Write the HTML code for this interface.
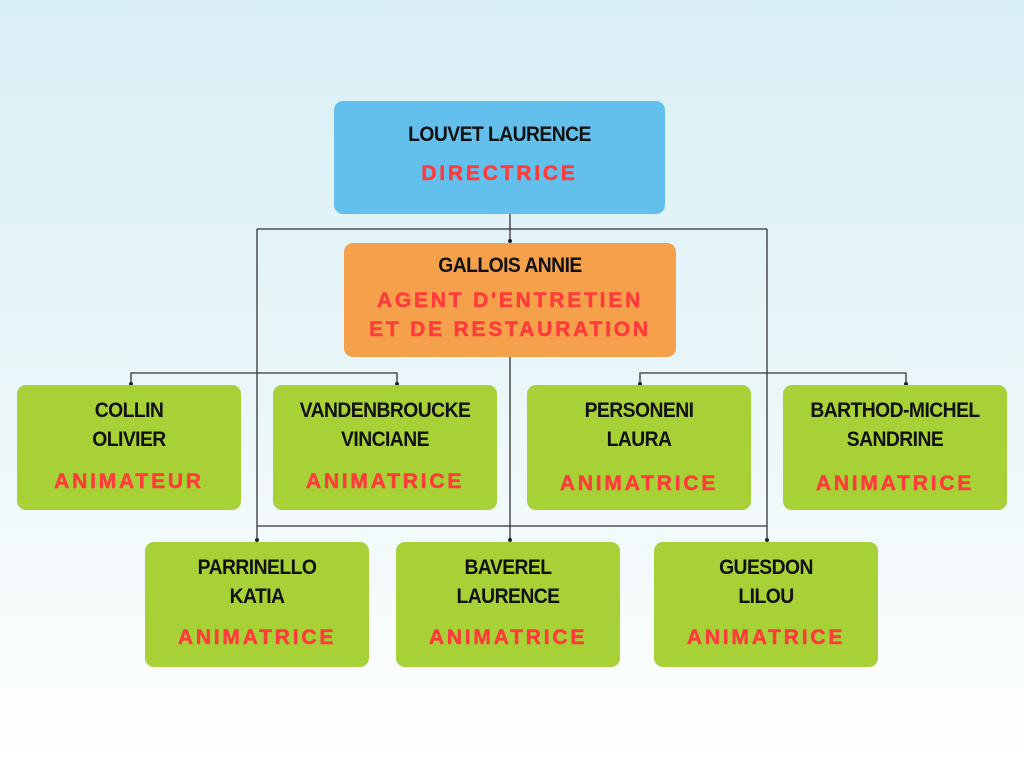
<!DOCTYPE html>
<html><head><style>
body{margin:0;width:1024px;height:768px;overflow:hidden;background:linear-gradient(#d8eff5 0%,#eaf6f9 50%,#ffffff 100%);font-family:"Liberation Sans",sans-serif;position:relative}
.b{position:absolute;border-radius:9px;text-align:center;box-sizing:border-box}
.n{font-weight:bold;font-size:21px;color:#111;line-height:29px;letter-spacing:-0.6px;transform:scaleX(0.92)}
.r{font-weight:bold;font-size:21px;color:#ff3b3b;letter-spacing:2.8px;line-height:32px;-webkit-text-stroke:0.5px #ff3b3b}
.g{background:#a8d037;width:224px;height:125px;padding-top:11px}
svg{position:absolute;left:0;top:0}
</style></head><body>
<svg width="1024" height="768">
<g stroke="#333" stroke-width="1.3" fill="none">
<path d="M510 214V241M257 229H767M257 229V541M767 229V541M257 526H767M510 357V541M131 385V373H397V385M640 385V373H906V385"/>
</g>
<g fill="#222"><circle cx="510" cy="241" r="2"/><circle cx="131" cy="384" r="2"/><circle cx="397" cy="384" r="2"/><circle cx="640" cy="384" r="2"/><circle cx="906" cy="384" r="2"/><circle cx="257" cy="540" r="2"/><circle cx="510" cy="540" r="2"/><circle cx="767" cy="540" r="2"/></g>
</svg>
<div class="b" style="left:334px;top:101px;width:331px;height:113px;background:#63c0ec;padding-top:19px"><div class="n">LOUVET LAURENCE</div><div class="r" style="margin-top:9px">DIRECTRICE</div></div>
<div class="b" style="left:344px;top:243px;width:332px;height:114px;background:#f5a04a;padding-top:8px"><div class="n">GALLOIS ANNIE</div><div class="r" style="margin-top:6px;line-height:29px">AGENT D'ENTRETIEN<br>ET DE RESTAURATION</div></div>
<div class="b g" style="left:17px;top:385px"><div class="n">COLLIN<br>OLIVIER</div><div class="r" style="margin-top:12px">ANIMATEUR</div></div>
<div class="b g" style="left:273px;top:385px"><div class="n">VANDENBROUCKE<br>VINCIANE</div><div class="r" style="margin-top:12px">ANIMATRICE</div></div>
<div class="b g" style="left:527px;top:385px"><div class="n">PERSONENI<br>LAURA</div><div class="r" style="margin-top:14px">ANIMATRICE</div></div>
<div class="b g" style="left:783px;top:385px"><div class="n">BARTHOD-MICHEL<br>SANDRINE</div><div class="r" style="margin-top:14px">ANIMATRICE</div></div>
<div class="b g" style="left:145px;top:542px"><div class="n">PARRINELLO<br>KATIA</div><div class="r" style="margin-top:11px">ANIMATRICE</div></div>
<div class="b g" style="left:396px;top:542px"><div class="n">BAVEREL<br>LAURENCE</div><div class="r" style="margin-top:11px">ANIMATRICE</div></div>
<div class="b g" style="left:654px;top:542px"><div class="n">GUESDON<br>LILOU</div><div class="r" style="margin-top:11px">ANIMATRICE</div></div>
</body></html>
